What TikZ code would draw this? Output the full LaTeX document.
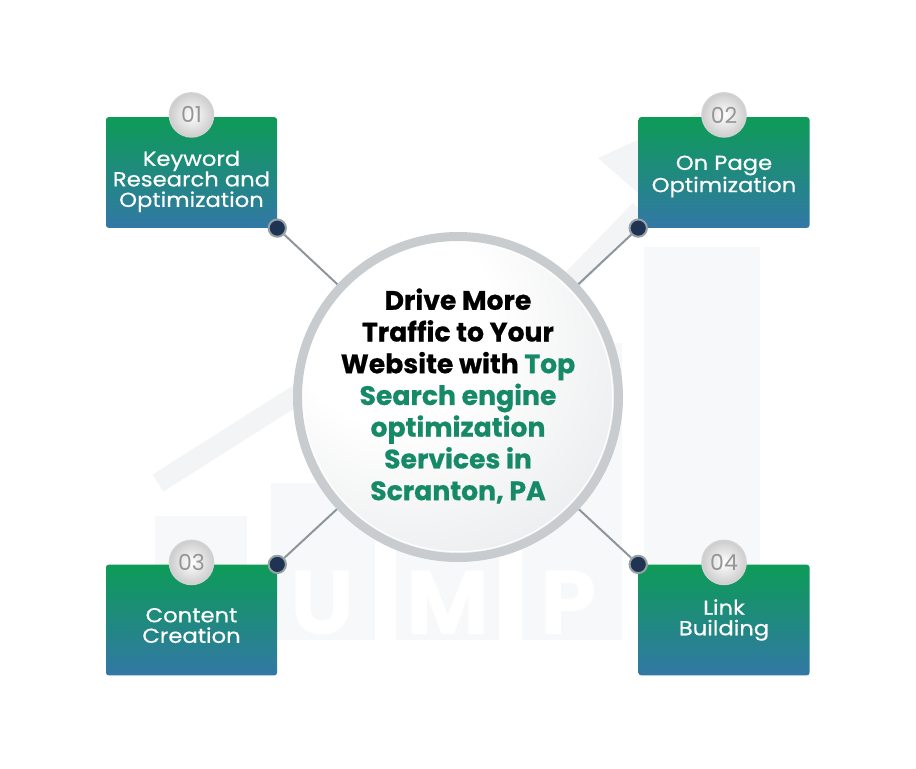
\documentclass[tikz,border=0pt]{standalone}
\usepackage{fontspec}
\setmainfont{Poppins}
\newfontfamily\cardfont[FakeBold=0.5,FakeStretch=1.12]{Poppins}
\newfontfamily\titlefont[BoldFeatures={FakeBold=0.6}]{Poppins}
\usepackage{tikz}
\usetikzlibrary{
	positioning,
	backgrounds,
	calc
}
\definecolor{CardTop}{RGB}{13,155,87}
\definecolor{CardBot}{RGB}{50,120,166}
\definecolor{HubRing}{RGB}{200,204,207}
\definecolor{HubGray}{RGB}{208,211,214}
\definecolor{DotNavy}{RGB}{30,52,82}
\definecolor{DotRim}{RGB}{150,160,166}
\definecolor{LinkGray}{RGB}{140,150,155}
\definecolor{MarkGray}{RGB}{247,248,249}
\definecolor{ArrowGray}{RGB}{243,244,245}
\definecolor{TealText}{RGB}{22,138,102}
\definecolor{NumGray}{RGB}{150,150,150}
\definecolor{BadgeGray}{RGB}{205,205,205}
\definecolor{BadgeRim}{RGB}{210,210,210}
\pgfdeclareradialshading{hubshade}{\pgfpoint{-14bp}{16bp}}{color(0bp)=(white); color(16bp)=(white); color(64bp)=(HubGray)}

\begin{document}
\begin{tikzpicture}[x=0.75pt, y=-0.75pt,
	cardbox/.style={rectangle, rounded corners=2pt, minimum width=128.25pt, minimum height=83pt, top color=CardTop, bottom color=CardBot, draw=none},
	cardtext/.style={text=white, align=center, font=\cardfont\fontsize{15.2}{15.4}\selectfont},
	numbadge/.style={circle, minimum size=33pt, inner sep=0pt, draw=BadgeRim, line width=1.2pt, inner color=white, outer color=BadgeGray, text=NumGray, font=\fontsize{16.5}{16.5}\selectfont},
	joindot/.style={circle, minimum size=13pt, inner sep=0pt, fill=DotNavy, draw=DotRim, line width=1.5pt},
	linkline/.style={draw=LinkGray, line width=1.5pt},
	chartbar/.style={fill=MarkGray, draw=none},
	wmletter/.style={text=white, font=\fontsize{68}{68}\selectfont\bfseries}
]
	\useasboundingbox (0,0) rectangle (916,768);

	% centre circle
	\node[circle, minimum size=240.75pt, draw=HubRing, line width=6.75pt, shading=hubshade] (hub) at (458,397) {};
	\draw[white, line width=0.8pt] (hub.center) circle (116pt);
	\node[align=center, font=\titlefont\fontsize{20}{23.8}\selectfont\bfseries] (title) at (458,396)
		{Drive More\\Traffic to Your\\Website with \textcolor{TealText}{Top}\\
		 \textcolor{TealText}{Search engine}\\\textcolor{TealText}{optimization}\\
		 \textcolor{TealText}{Services in}\\\textcolor{TealText}{Scranton, PA}};

	% cards
	\node[cardbox] (kw) at (191.5,172.5) {};
	\node[cardbox] (onpage) at (724,172.5) {};
	\node[cardbox] (content) at (191.5,620) {};
	\node[cardbox] (links) at (724,620) {};

	\node[cardtext] (kwtxt) at ($(kw.center)+(0,9)$) {Keyword\\Research and\\Optimization};
	\node[cardtext] (onpagetxt) at ($(onpage.center)+(0,4)$) {On Page\\Optimization};
	\node[cardtext] (contenttxt) at ($(content.center)+(0,5.5)$) {Content\\Creation};
	\node[cardtext] (linkstxt) at ($(links.center)+(0,0)$) {Link\\Building};

	% number badges
	\node[numbadge] (n1) at ($(kw.north)+(0,-2)$) {01};
	\node[numbadge] (n2) at ($(onpage.north)+(0,-2)$) {02};
	\node[numbadge] (n3) at ($(content.north)+(0,-2)$) {03};
	\node[numbadge] (n4) at ($(links.north)+(0,-2)$) {04};

	% joints
	\node[joindot] (d1) at (kw.south east) {};
	\node[joindot] (d2) at (onpage.south west) {};
	\node[joindot] (d3) at (content.north east) {};
	\node[joindot] (d4) at (links.north west) {};

	\begin{pgfonlayer}{background}
		\fill[white] (0,0) rectangle (916,768);
		% faint chart behind
		\fill[chartbar] (155,516) rectangle (247,640);
		\fill[chartbar] (271,483) rectangle (375,640);
		\fill[chartbar] (396,420) rectangle (499,640);
		\fill[chartbar] (522,343) rectangle (622,640);
		\fill[chartbar] (644,247) rectangle (760,640);
		\draw[ArrowGray, line width=15pt, line join=miter] (158,483) -- (497,268) -- (548,305) -- (640,210);
		\fill[ArrowGray] (598,158) -- (700,112) -- (676,226) -- cycle;
		\node[wmletter] (wu) at (322,603) {U};
		\node[wmletter] (wm) at (448,603) {M};
		\node[wmletter] (wp) at (569,603) {P};
		% connectors
		\draw[linkline] (d1) -- (hub);
		\draw[linkline] (d2) -- (hub);
		\draw[linkline] (d3) -- (hub);
		\draw[linkline] (d4) -- (hub);
	\end{pgfonlayer}
\end{tikzpicture}
\end{document}
